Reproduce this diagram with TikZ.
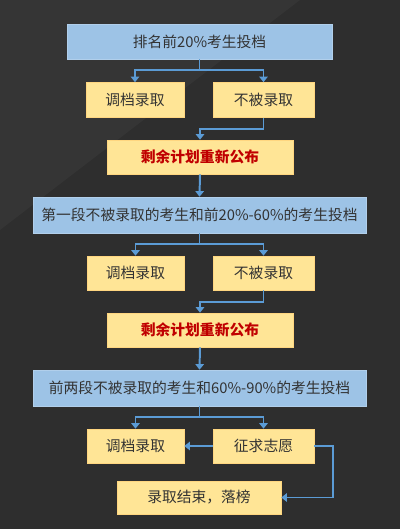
\documentclass[tikz,border=0pt]{standalone}
\usepackage{fontspec}
\setmainfont{Noto Sans CJK SC}
\usetikzlibrary{arrows.meta}

\definecolor{box blue}{HTML}{9DC3E6}
\definecolor{box yellow}{HTML}{FFE596}
\definecolor{link blue}{HTML}{5B9BD5}
\definecolor{board}{HTML}{2E2E2E}
\definecolor{board light}{HTML}{353535}
\definecolor{words}{HTML}{333333}
\definecolor{notice red}{HTML}{C00000}
\tikzset{
  stage/.style={fill=box blue, draw=box blue!80!white, text=words, inner sep=0pt,
    font=\fontsize{10.5}{12}\selectfont},
  result/.style={fill=box yellow, draw=box yellow!85!orange, text=words, inner sep=0pt,
    font=\fontsize{10.5}{12}\selectfont},
  notice/.style={result, text=notice red, font=\fontsize{10.5}{12}\selectfont\bfseries}
  }
\tikzstyle{link} = [draw=link blue, line width=1.4pt, -{Triangle[length=4pt,width=6pt]}]

\begin{document}
\begin{tikzpicture}[x=0.025cm, y=-0.025cm]

  % background
  \fill[board] (0,0) rectangle (400,529);
  \fill[board light] (0,0) -- (300,0) -- (0,230) -- cycle;
  \useasboundingbox (0,0) rectangle (400,529);

  % first round
  \node[stage, minimum width=6.625cm, minimum height=0.875cm] (top) at (199.5,41.5) {排名前20\%考生投档};
  \node[result, minimum width=2.45cm, minimum height=0.875cm] (admit1) at (135,100) {调档录取};
  \node[result, minimum width=2.525cm, minimum height=0.875cm] (reject1) at (263.5,100) {不被录取};
  \node[notice, minimum width=4.65cm, minimum height=0.85cm] (plan1) at (200,157) {剩余计划重新公布};

  % second round
  \node[stage, minimum width=8.325cm, minimum height=0.9cm] (mid) at (199.5,215) {第一段不被录取的考生和前20\%-60\%的考生投档};
  \node[result, minimum width=2.425cm, minimum height=0.85cm] (admit2) at (135.5,273) {调档录取};
  \node[result, minimum width=2.525cm, minimum height=0.85cm] (reject2) at (263.5,273) {不被录取};
  \node[notice, minimum width=4.65cm, minimum height=0.85cm] (plan2) at (200,330) {剩余计划重新公布};

  % third round
  \node[stage, minimum width=8.325cm, minimum height=0.9cm] (low) at (199.5,388) {前两段不被录取的考生和60\%-90\%的考生投档};
  \node[result, minimum width=2.425cm, minimum height=0.85cm] (admit3) at (135.5,446) {调档录取};
  \node[result, minimum width=2.525cm, minimum height=0.85cm] (solicit) at (263.5,446) {征求志愿};
  \node[result, minimum width=4.1cm, minimum height=0.825cm] (finish) at (199,497.5) {录取结束，落榜};

  % connectors
  \foreach \from/\left/\right in {top/admit1/reject1, mid/admit2/reject2, low/admit3/solicit} {
    \path[link] (\from.south) -- ++(0,11) -| (\left.north);
    \path[link] (\from.south) -- ++(0,11) -| (\right.north);
  }
  \path[link] (reject1.south) -- ++(0,11) -| (plan1.north);
  \path[link] (reject2.south) -- ++(0,12) -| (plan2.north);
  \path[link] (plan1.south) -- (mid.north);
  \path[link] (plan2.south) -- (low.north);
  \path[link] (solicit.west) -- (admit3.east);
  \path[link] (solicit.east) -- ++(19,0) |- (finish.east);
\end{tikzpicture}
\end{document}
